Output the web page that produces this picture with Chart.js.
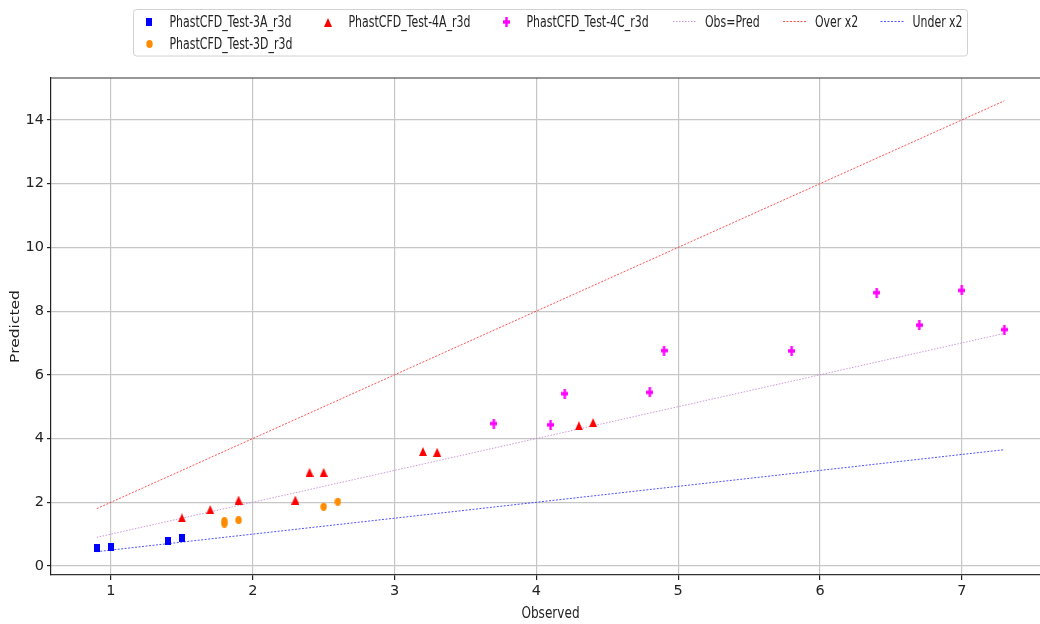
<!DOCTYPE html>
<html>
<head>
<meta charset="utf-8">
<script src="https://cdn.jsdelivr.net/npm/chart.js@4.4.1/dist/chart.umd.min.js"></script>
<style>
  html, body { margin: 0; padding: 0; background: #fff; overflow: hidden; }
  #wrap { position: absolute; left: 0; top: 0; width: 1060px; height: 624px; }
</style>
</head>
<body>
<div id="wrap"><canvas id="c" width="1060" height="624"></canvas></div>
<script>
// Axis ticks
const xTicks = [1, 2, 3, 4, 5, 6, 7];
const yTicks = [0, 2, 4, 6, 8, 10, 12, 14];

// Observed vs predicted values per test
const test3A_obs  = [0.9, 1.0, 1.4, 1.5];
const test3A_pred = [0.56, 0.61, 0.79, 0.88];

const test3D_obs  = [1.8, 1.8, 1.9, 2.5, 2.6];
const test3D_pred = [1.33, 1.41, 1.44, 1.86, 2.02];

const test4A_obs  = [1.5, 1.7, 1.9, 2.3, 2.4, 2.5, 3.2, 3.3, 4.3, 4.4];
const test4A_pred = [1.51, 1.77, 2.07, 2.07, 2.94, 2.94, 3.59, 3.57, 4.40, 4.50];

const test4C_obs  = [3.7, 4.1, 4.2, 4.8, 4.9, 5.8, 6.4, 6.7, 7.0, 7.3];
const test4C_pred = [4.47, 4.43, 5.41, 5.45, 6.76, 6.75, 8.58, 7.56, 8.65, 7.42];

// Reference lines: perfect agreement and factor-of-two bounds
const refObs   = [0.9, 7.3];
const refEqual = [0.9, 7.3];
const refOver  = [1.8, 14.6];
const refUnder = [0.45, 3.65];

const FONT = "'DejaVu Sans', 'Noto Sans', sans-serif";

function pts(xs, ys) { return xs.map((x, i) => ({ x: x, y: ys[i] })); }

// Small marker bitmaps (slightly taller than wide)
function sprite(w, h, color, draw) {
  const c = document.createElement('canvas');
  c.width = w; c.height = h;
  const g = c.getContext('2d');
  g.fillStyle = color;
  draw(g, w, h);
  return c;
}
const mkSquare = sprite(6, 8, '#0000ff', (g, w, h) => g.fillRect(0, 0, w, h));
const mkCircle = sprite(7, 8, '#ff8c00', (g, w, h) => {
  g.beginPath(); g.ellipse(w / 2, h / 2, 3.2, 3.9, 0, 0, Math.PI * 2); g.fill();
});
const mkTriangle = sprite(8, 9, '#ff0000', (g, w, h) => {
  g.beginPath(); g.moveTo(w / 2, 0); g.lineTo(w, h); g.lineTo(0, h); g.closePath(); g.fill();
});
const mkPlus = sprite(7, 10, '#ff00ff', (g, w, h) => {
  g.fillRect(0, h / 2 - 1.7, w, 3.4);
  g.fillRect(w / 2 - 1.2, 0, 2.4, h);
});

// Horizontally condensed text
function narrowText(ctx, text, x, y, k, angle) {
  ctx.save();
  ctx.translate(x, y);
  if (angle) { ctx.rotate(angle); ctx.scale(1, k); } else { ctx.scale(k, 1); }
  ctx.fillText(text, 0, 0);
  ctx.restore();
}

// Top and right spines
const framePlugin = {
  id: 'frame',
  afterDraw(chart) {
    const { ctx, chartArea: a } = chart;
    ctx.save();
    ctx.strokeStyle = '#333';
    ctx.lineWidth = 1.2;
    ctx.beginPath();
    ctx.moveTo(a.left, a.top); ctx.lineTo(a.right, a.top); ctx.lineTo(a.right, a.bottom);
    ctx.stroke();
    ctx.restore();
  }
};

// Axis titles
const titlePlugin = {
  id: 'axisTitles',
  afterDraw(chart) {
    const { ctx, chartArea: a } = chart;
    ctx.save();
    ctx.fillStyle = '#222';
    ctx.font = '15.5px ' + FONT;
    ctx.textAlign = 'center';
    ctx.textBaseline = 'middle';
    narrowText(ctx, 'Observed', (a.left + a.right) / 2, 613.5, 0.78, 0);
    narrowText(ctx, 'Predicted', 16, (a.top + a.bottom) / 2, 0.8, -Math.PI / 2);
    ctx.restore();
  }
};

// Boxed legend, filled column by column
const legendPlugin = {
  id: 'boxLegend',
  afterDraw(chart) {
    const ctx = chart.ctx;
    const ds = chart.data.datasets;
    const cols = [149, 328, 506, 684.5, 794.5, 892];
    const rows = [22, 43.5];
    const slots = [[0, 0], [0, 1], [1, 0], [2, 0], [3, 0], [4, 0], [5, 0]];
    ctx.save();
    ctx.beginPath();
    ctx.roundRect(133.5, 9.5, 834, 46.5, 3);
    ctx.fillStyle = 'rgba(255,255,255,0.85)';
    ctx.fill();
    ctx.strokeStyle = '#d2d2d2';
    ctx.lineWidth = 1;
    ctx.stroke();
    ctx.font = '15px ' + FONT;
    ctx.fillStyle = '#222';
    ctx.textAlign = 'left';
    ctx.textBaseline = 'alphabetic';
    ds.forEach((d, i) => {
      const cx = cols[slots[i][0]];
      const cy = rows[slots[i][1]];
      let tx;
      if (d.showLine) {
        ctx.save();
        ctx.strokeStyle = d.borderColor;
        ctx.lineWidth = d.borderWidth;
        ctx.setLineDash(d.borderDash);
        ctx.beginPath();
        ctx.moveTo(cx - 11.5, cy - 0.5); ctx.lineTo(cx + 11.5, cy - 0.5);
        ctx.stroke();
        ctx.restore();
        tx = cx + 20.5;
      } else {
        const img = d.pointStyle;
        ctx.drawImage(img, Math.round(cx - img.width / 2), Math.round(cy - img.height / 2));
        tx = cx + 20.5;
      }
      narrowText(ctx, d.label, tx, cy + 5.2, 0.73, 0);
    });
    ctx.restore();
  }
};

const axisFont = { family: FONT, size: 14.5 };

new Chart(document.getElementById('c'), {
  type: 'scatter',
  data: {
    datasets: [
      { label: 'PhastCFD_Test-3A_r3d', data: pts(test3A_obs, test3A_pred), pointStyle: mkSquare, pointRadius: 4 },
      { label: 'PhastCFD_Test-3D_r3d', data: pts(test3D_obs, test3D_pred), pointStyle: mkCircle, pointRadius: 4 },
      { label: 'PhastCFD_Test-4A_r3d', data: pts(test4A_obs, test4A_pred), pointStyle: mkTriangle, pointRadius: 4 },
      { label: 'PhastCFD_Test-4C_r3d', data: pts(test4C_obs, test4C_pred), pointStyle: mkPlus, pointRadius: 4 },
      { label: 'Obs=Pred', data: pts(refObs, refEqual), showLine: true, pointRadius: 0,
        borderColor: 'rgba(185,120,205,0.75)', borderWidth: 1, borderDash: [1.5, 1.5], order: 5 },
      { label: 'Over x2', data: pts(refObs, refOver), showLine: true, pointRadius: 0,
        borderColor: 'rgba(255,40,40,0.8)', borderWidth: 1, borderDash: [2, 1.5], order: 5 },
      { label: 'Under x2', data: pts(refObs, refUnder), showLine: true, pointRadius: 0,
        borderColor: 'rgba(40,40,255,0.8)', borderWidth: 1, borderDash: [2, 1.5], order: 5 }
    ]
  },
  options: {
    responsive: false,
    animation: false,
    devicePixelRatio: 1,
    layout: { padding: { left: 0, right: 10, top: 78, bottom: 0 } },
    plugins: { legend: { display: false }, tooltip: { enabled: false } },
    scales: {
      x: {
        type: 'linear', min: 0.577, max: 7.622,
        afterBuildTicks: s => { s.ticks = xTicks.map(v => ({ value: v })); },
        afterFit: s => { s.height = 49; },
        grid: { color: '#c6c6c6', lineWidth: 1.2, tickLength: 5, tickColor: '#222' },
        border: { color: '#333', width: 1.3 },
        ticks: { font: axisFont, color: '#222', padding: 3, maxRotation: 0, autoSkip: false }
      },
      y: {
        type: 'linear', min: -0.283, max: 15.317,
        afterBuildTicks: s => { s.ticks = yTicks.map(v => ({ value: v })); },
        afterFit: s => { s.width = 51; },
        grid: { color: '#c6c6c6', lineWidth: 1.2, tickLength: 4, tickColor: '#222' },
        border: { color: '#222', width: 1.2 },
        ticks: { font: axisFont, color: '#222', padding: 3, autoSkip: false }
      }
    }
  },
  plugins: [framePlugin, titlePlugin, legendPlugin]
});
</script>
</body>
</html>
